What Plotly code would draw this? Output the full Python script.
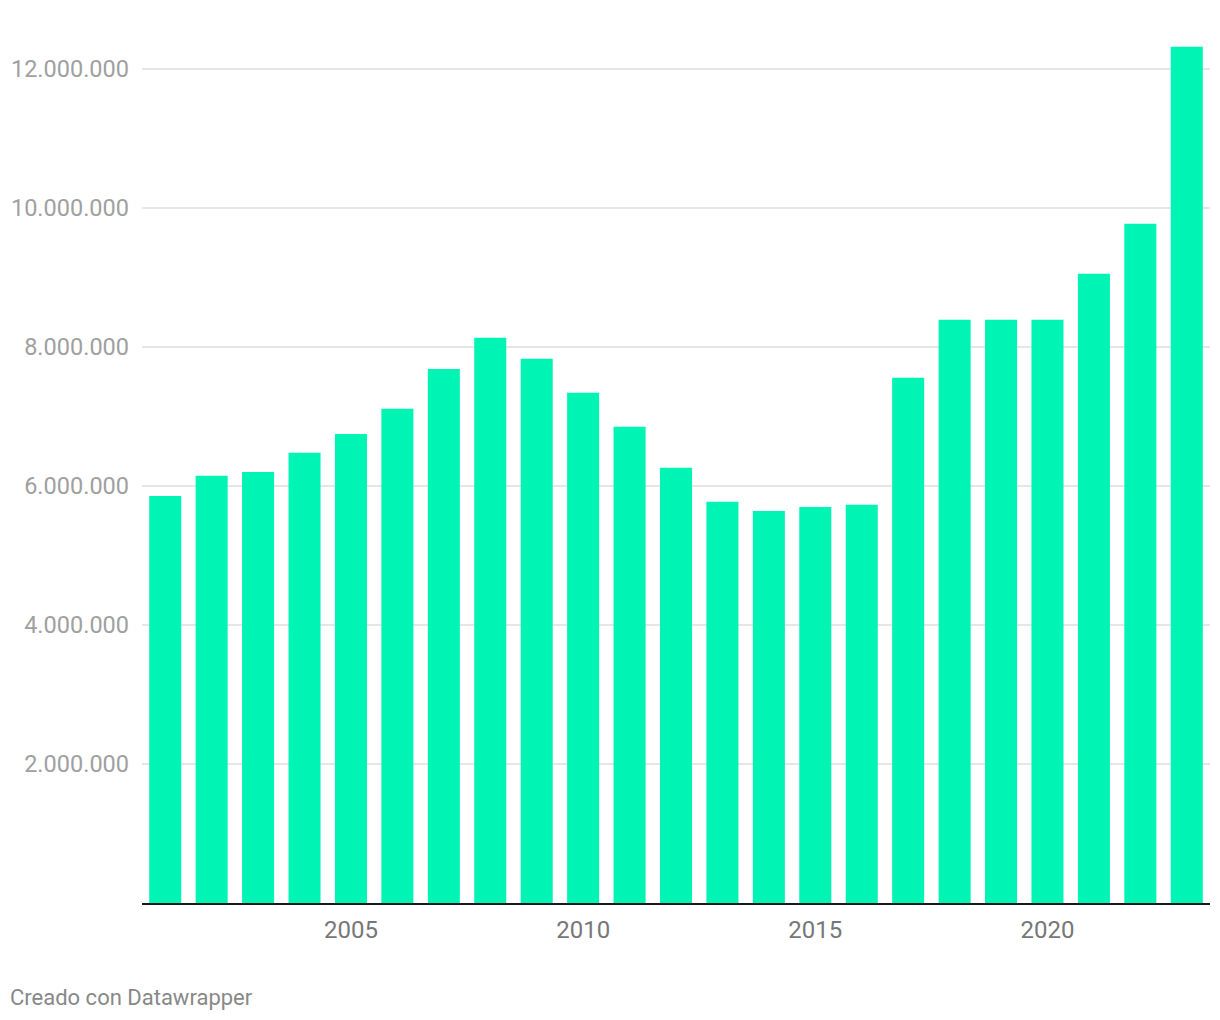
import plotly.graph_objects as go

years = list(range(2001, 2024))
values = [5856000, 6144000, 6201000, 6475000, 6748000, 7108000, 7683000, 8129000,
          7827000, 7338000, 6849000, 6259000, 5770000, 5640000, 5698000, 5727000,
          7554000, 8388000, 8388000, 8388000, 9050000, 9770000, 12317000]
x_ticks = [2005, 2010, 2015, 2020]
y_ticks = [2000000, 4000000, 6000000, 8000000, 10000000, 12000000]
y_labels = ["2.000.000", "4.000.000", "6.000.000", "8.000.000", "10.000.000", "12.000.000"]

L, R, T, B, W, H = 134, 2, 26, 109, 1204, 1004
PW, PH = W - L - R, H - T - B

fig = go.Figure(go.Bar(x=years, y=values, marker_color="#00F4B4", marker_line_width=0, width=0.69))

fig.update_layout(
    width=W, height=H,
    margin=dict(l=L, r=R, t=T, b=B, autoexpand=False),
    plot_bgcolor="white", paper_bgcolor="white",
    font=dict(family="Roboto", size=22),
    showlegend=False,
)
fig.update_xaxes(range=[2000.5, 2023.5], tickvals=x_ticks, ticktext=[str(t) for t in x_ticks],
                 tickfont=dict(color="#777777", size=24), showgrid=False, ticks="",
                 ticklabelstandoff=4, automargin=False,
                 showline=True, linecolor="#1a1a1a", linewidth=2, zeroline=False)
fig.update_yaxes(range=[0, 12500000], tickvals=y_ticks, ticktext=y_labels,
                 tickfont=dict(color="#a0a0a0", size=23.5), showgrid=True, gridcolor="#e6e6e6",
                 ticklabelstandoff=12, automargin=False,
                 gridwidth=2, zeroline=False, ticks="", showline=False)
fig.add_annotation(text="Creado con Datawrapper", xref="paper", yref="paper",
                   x=-L / PW, y=-94 / PH, xanchor="left", yanchor="middle", showarrow=False,
                   font=dict(color="#888888", size=22))
fig.write_html("out.html")
